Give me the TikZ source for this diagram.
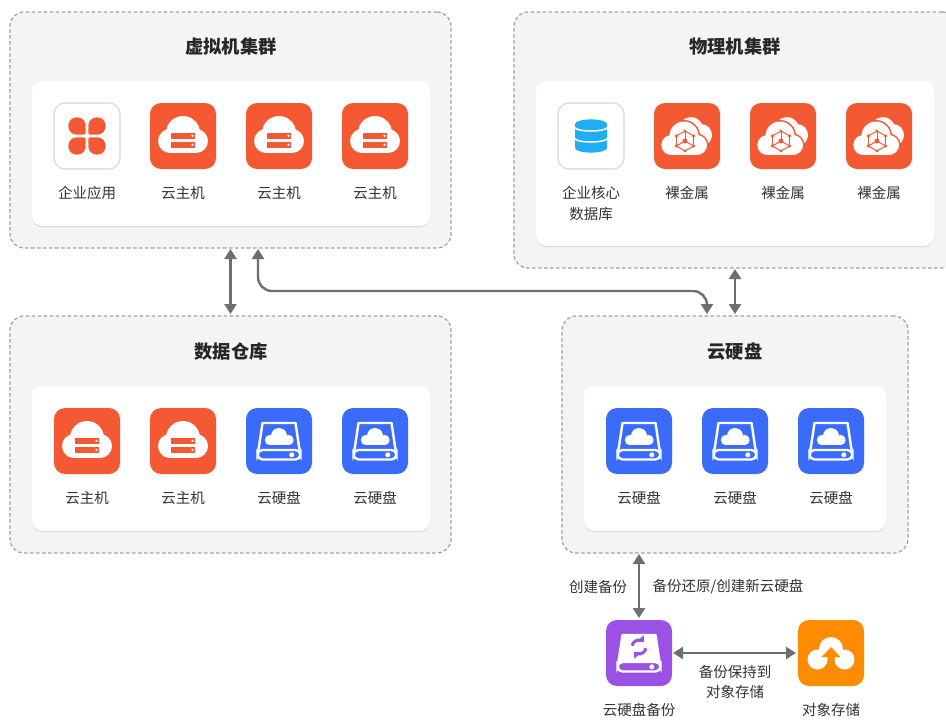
\documentclass[tikz,border=0pt]{standalone}
\usepackage{fontspec}
\setmainfont{Noto Sans CJK SC}
\usetikzlibrary{arrows.meta,shadows}

\definecolor{panelfill}{HTML}{F4F4F6}
\definecolor{paneldash}{HTML}{A0A0A2}
\definecolor{tileline}{HTML}{DADADA}
\definecolor{hostred}{HTML}{F55933}
\definecolor{diskblue}{HTML}{3A6BFA}
\definecolor{dbblue}{HTML}{1FAEF2}
\definecolor{backuppurple}{HTML}{9B50E6}
\definecolor{storeorange}{HTML}{FF8C00}
\definecolor{linkgray}{HTML}{6E6E6E}
\definecolor{textgray}{HTML}{333333}

\tikzset{
	panel/.style={draw=paneldash,fill=panelfill,line width=1.2pt,dash pattern=on 3.5pt off 2.5pt,rounded corners=14pt,inner sep=0pt,outer sep=0pt},
	inner/.style={fill=white,rounded corners=10pt,inner sep=0pt,outer sep=0pt,drop shadow={shadow xshift=0pt,shadow yshift=-1pt,opacity=.12,fill=black}},
	tile/.style={minimum width=66pt,minimum height=66pt,rounded corners=11pt,inner sep=0pt,outer sep=0pt},
	title/.style={font=\fontsize{18.3}{20}\selectfont\bfseries,text=black!85},
	caption/.style={font=\fontsize{14.5}{16}\selectfont,text=textgray},
	link/.style={draw=linkgray,line width=2.4pt,{Triangle[length=10pt,width=12pt]}-{Triangle[length=10pt,width=12pt]},shorten >=2pt,shorten <=1pt},
	pics/appicon/.style={code={
		\foreach \sx/\sy in {-1/-1,1/-1,-1/1,1/1} {
			\fill[hostred,rounded corners=8.5pt] (\sx*1.3,\sy*1.3) rectangle (\sx*18.7,\sy*18.7);
			\fill[hostred,rounded corners=2pt] (\sx*1.3,\sy*1.3) rectangle (\sx*9,\sy*9);
		}
	}},
	pics/dbicon/.style={code={
		\fill[dbblue] (-16,-12) rectangle (16,12);
		\fill[dbblue] (0,-12) ellipse (16 and 4.6);
		\fill[dbblue] (0,12) ellipse (16 and 4.6);
		\draw[white,line width=1.5pt] (-16,-8.5) arc (180:0:16 and 3.5);
		\draw[white,line width=1.5pt] (-16,2.5) arc (180:0:16 and 3.5);
	}},
	pics/hosticon/.style={code={
		\fill[white] (0,-3) circle (17);
		\fill[white] (-13,5) circle (12);
		\fill[white] (13,5) circle (12);
		\fill[white] (-13,-2) rectangle (13,17);
		\fill[hostred] (-12.4,-3.3) rectangle (12.4,3);
		\fill[hostred] (-12.4,5.7) rectangle (12.4,12);
		\fill[white] (9.5,-.2) circle (1.3);
		\fill[white] (9.5,8.8) circle (1.3);
	}},
	pics/metalicon/.style={code={
		\fill[white] (4,-7) circle (12);
		\fill[white] (14,-1) circle (11);
		\fill[hostred] (-3,0) circle (16);
		\fill[hostred] (10,9) circle (11.5);
		\fill[white] (-3,0) circle (14.5);
		\fill[white] (-15.7,9) circle (10);
		\fill[white] (10,9) circle (10);
		\fill[white] (-15,2) rectangle (10,19);
		\foreach \a in {30,90,...,330} {
			\fill[hostred] (-2,5) ++(\a:10) circle (1.7);
			\draw[hostred,line width=1pt] (-2,5) ++(\a:10) -- ++(\a+120:10);
		}
		\foreach \a in {30,150,270} {
			\draw[hostred,line width=1pt] (-2,5) -- ++(\a:10);
		}
		\fill[hostred] (-2,5) circle (2.4);
	}},
	pics/diskicon/.style={code={
		\draw[white,line width=2.4pt,line join=round,fill=diskblue] (-16.5,-18) -- (16.5,-18) -- (21,12) -- (-21,12) -- cycle;
		\draw[white,line width=2.4pt,fill=diskblue,rounded corners=5pt] (-21.5,9) rectangle (21.5,18.5);
		\fill[white] (12.8,13.8) circle (2.5);
		\fill[white] (0,-5) circle (8);
		\fill[white] (-9,-1) circle (5.2);
		\fill[white] (9.5,-1) circle (5.2);
		\fill[white] (-9,-3) rectangle (9.5,4.2);
	}},
	pics/backupicon/.style={code={
		\fill[white,line join=round,draw=white,line width=2.4pt] (-16.5,-18) -- (16.5,-18) -- (21,12) -- (-21,12) -- cycle;
		\draw[white,line width=2.4pt,fill=backuppurple,rounded corners=5pt] (-21.5,9) rectangle (21.5,18.5);
		\fill[white] (12.8,13.8) circle (2.5);
		\draw[backuppurple,line width=3pt,-{Triangle[length=5pt,width=9pt]}] ([shift=(190:7)]0,-6) arc (190:315:7);
		\draw[backuppurple,line width=3pt,-{Triangle[length=5pt,width=9pt]}] ([shift=(10:7)]0,-6) arc (10:135:7);
	}},
	pics/storeicon/.style={code={
		\fill[white] (0,-4) circle (12);
		\fill[white] (-13.5,6.5) circle (10);
		\fill[white] (13.5,6.5) circle (10);
		\fill[white] (-13.5,-2) -- (13.5,-2) -- (13.5,7) -- (-13.5,7) -- cycle;
		\fill[storeorange] (0,-6) -- (9.5,4) -- (3.5,4) -- (3.5,18) -- (-3.5,18) -- (-3.5,4) -- (-9.5,4) -- cycle;
	}},
}

% name, x, y, tile colours, icon, label
\newcommand{\iconitem}[6]{
	\node[tile,#4] (#1) at (#2,#3) {};
	\pic at (#1) {#5};
	\node[caption] (#1text) at (#2,#3+57) {#6};
}

\begin{document}
\begin{tikzpicture}[x=1pt,y=-1pt]
	\clip (0,0) rectangle (946,720);
	% groups
	\node[panel,minimum width=441pt,minimum height=236pt] (vmgroup) at (230.5,130) {};
	\node[panel,minimum width=442pt,minimum height=256pt] (metalgroup) at (735,140) {};
	\node[panel,minimum width=441pt,minimum height=237pt] (datagroup) at (230.5,434.5) {};
	\node[panel,minimum width=346pt,minimum height=237pt] (diskgroup) at (735,434.5) {};
	\node[inner,minimum width=398pt,minimum height=145pt] (vminner) at (231,153.5) {};
	\node[inner,minimum width=398pt,minimum height=165pt] (metalinner) at (735,163.5) {};
	\node[inner,minimum width=398pt,minimum height=145pt] (datainner) at (231,458.5) {};
	\node[inner,minimum width=302pt,minimum height=145pt] (diskinner) at (735,458.5) {};
	\node[title] (vmtitle) at (231,46.5) {虚拟机集群};
	\node[title] (metaltitle) at (735,46.5) {物理机集群};
	\node[title] (datatitle) at (231,351.5) {数据仓库};
	\node[title] (disktitle) at (735,351.5) {云硬盘};
	% virtual machines
	\iconitem{vmapp}{87}{136}{draw=tileline,line width=1.2pt,fill=white}{appicon}{企业应用}
	\iconitem{vma}{183}{136}{fill=hostred}{hosticon}{云主机}
	\iconitem{vmb}{279}{136}{fill=hostred}{hosticon}{云主机}
	\iconitem{vmc}{375}{136}{fill=hostred}{hosticon}{云主机}
	% physical machines
	\iconitem{metaldb}{591}{136}{draw=tileline,line width=1.2pt,fill=white}{dbicon}{企业核心}
	\node[caption] (metaldbtextb) at (591,214) {数据库};
	\iconitem{metala}{687}{136}{fill=hostred}{metalicon}{裸金属}
	\iconitem{metalb}{783}{136}{fill=hostred}{metalicon}{裸金属}
	\iconitem{metalc}{879}{136}{fill=hostred}{metalicon}{裸金属}
	% warehouse
	\iconitem{dataa}{87}{441}{fill=hostred}{hosticon}{云主机}
	\iconitem{datab}{183}{441}{fill=hostred}{hosticon}{云主机}
	\iconitem{datac}{279}{441}{fill=diskblue}{diskicon}{云硬盘}
	\iconitem{datad}{375}{441}{fill=diskblue}{diskicon}{云硬盘}
	% disks
	\iconitem{diska}{639}{441}{fill=diskblue}{diskicon}{云硬盘}
	\iconitem{diskb}{735}{441}{fill=diskblue}{diskicon}{云硬盘}
	\iconitem{diskc}{831}{441}{fill=diskblue}{diskicon}{云硬盘}
	% backup and object storage
	\iconitem{backup}{639}{653}{fill=backuppurple}{backupicon}{云硬盘备份}
	\iconitem{store}{831}{653}{fill=storeorange}{storeicon}{对象存储}
	\node[caption] (createtext) at (598,587) {创建备份};
	\node[caption] (restoretext) at (728,587) {备份还原/创建新云硬盘};
	\node[caption] (keeptext) at (735,672) {备份保持到};
	\node[caption] (keeptextb) at (735,692) {对象存储};
	% connectors
	\coordinate (vmport) at (258,248);
	\coordinate (bendleft) at (258,291);
	\coordinate (bendright) at (707,291);
	\coordinate (diskport) at (707,316);
	\draw[link] (vmgroup.south) -- (datagroup.north);
	\draw[link,rounded corners=14pt] (vmport) -- (bendleft) -- (bendright) -- (diskport);
	\draw[link] (metalgroup.south) -- (diskgroup.north);
	\draw[link] (backup.north |- diskgroup.south) -- (backup.north);
	\draw[link] (backup.east) -- (store.west);
\end{tikzpicture}
\end{document}
